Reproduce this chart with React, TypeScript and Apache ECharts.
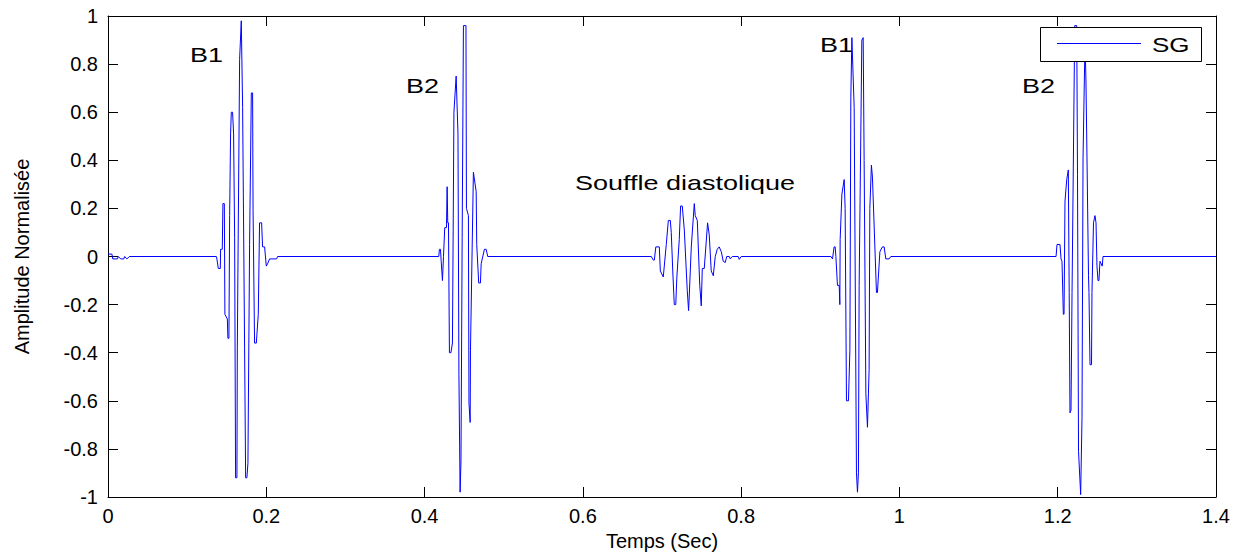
import React, { useEffect, useRef } from "react";
import * as echarts from "echarts";

// Time axis (s) and amplitude limits
const X_MIN = 0;
const X_MAX = 1.4;
const X_STEP = 0.2;
const Y_MIN = -1;
const Y_MAX = 1;
const Y_STEP = 0.2;

// Signal SG as [time (s), normalised amplitude]
const startNoise: [number, number][] = [
  [0.0, 0.01], [0.005, 0.01], [0.006, -0.01], [0.012, -0.01], [0.013, 0],
  [0.016, -0.01], [0.02, -0.01], [0.021, 0], [0.024, -0.01], [0.027, 0],
];

const burstB1a: [number, number][] = [
  [0.1369, 0], [0.1376, -0.01], [0.1394, -0.05], [0.1419, -0.05], [0.1423, 0.03],
  [0.1444, 0.03], [0.1452, 0.22], [0.147, 0.22], [0.1477, -0.24], [0.1508, -0.26],
  [0.1515, -0.34], [0.1528, -0.34], [0.1537, 0.17], [0.1549, 0.51], [0.1558, 0.6],
  [0.1574, 0.6], [0.1587, 0.51], [0.16, 0.08], [0.1612, -0.92], [0.1629, -0.92],
  [0.1634, -0.38], [0.1663, 0.82], [0.1684, 0.98], [0.1692, 0.98], [0.1701, 0.62],
  [0.1726, -0.38], [0.1739, -0.92], [0.1755, -0.92], [0.1768, -0.86], [0.1789, 0.05],
  [0.1811, 0.68], [0.1827, 0.68], [0.1833, 0.19], [0.1852, -0.36], [0.1874, -0.36],
  [0.1899, -0.24], [0.1915, 0.14], [0.1941, 0.14], [0.1953, 0.04], [0.1979, 0.04],
  [0.2, -0.04], [0.2016, -0.03], [0.2042, -0.01], [0.213, -0.01], [0.2143, 0],
];

const burstB2a: [number, number][] = [
  [0.4179, 0], [0.4188, 0.03], [0.4201, 0.03], [0.421, -0.02], [0.4226, -0.1],
  [0.4232, -0.1], [0.4239, 0.0], [0.4255, 0.12], [0.4277, 0.12], [0.4285, 0.29],
  [0.4293, 0.14], [0.4302, 0.14], [0.4314, -0.4], [0.4333, -0.4], [0.4352, -0.36],
  [0.4371, 0.6], [0.4399, 0.75], [0.4422, 0.51], [0.4434, -0.49], [0.4449, -0.98],
  [0.446, -0.85], [0.4475, 0.08], [0.4491, 0.96], [0.4523, 0.96], [0.4529, 0.2],
  [0.4554, 0.17], [0.4561, -0.61], [0.4576, -0.69], [0.458, -0.39], [0.4617, 0.35],
  [0.4652, 0.27], [0.4659, 0.05], [0.4684, -0.11], [0.4706, -0.11], [0.4715, -0.03],
  [0.4756, 0.03], [0.4778, 0.03], [0.4798, 0],
];

const souffle: [number, number][] = [
  [0.6865, 0], [0.689, -0.015], [0.6903, -0.015], [0.6922, 0.04], [0.6966, 0.04],
  [0.6979, -0.06], [0.7016, -0.085], [0.7029, -0.04], [0.7054, 0.05], [0.708, 0.15],
  [0.7105, 0.15], [0.7117, 0.1], [0.7136, -0.06], [0.7155, -0.2], [0.7174, -0.2],
  [0.7187, -0.09], [0.7218, 0.07], [0.7235, 0.21], [0.7256, 0.21], [0.7282, 0.11],
  [0.7319, -0.14], [0.7336, -0.225], [0.7345, -0.16], [0.737, 0.04], [0.7408, 0.22],
  [0.742, 0.17], [0.7446, 0.15], [0.7477, -0.12], [0.7496, -0.205], [0.7509, -0.05],
  [0.7534, -0.05], [0.7576, 0.14], [0.7597, 0.09], [0.7622, -0.06], [0.7648, -0.08],
  [0.7673, 0.0], [0.7698, 0.03], [0.7723, 0.04], [0.7749, 0.02], [0.7774, -0.02],
  [0.7799, -0.025], [0.7818, 0], [0.785, 0], [0.7862, -0.01], [0.7888, 0],
  [0.7963, 0], [0.7976, -0.012], [0.8001, 0],
];

const burstB1b: [number, number][] = [
  [0.9134, 0], [0.9154, -0.01], [0.9175, 0.04], [0.9188, 0.04], [0.9197, 0],
  [0.9205, 0], [0.9217, -0.12], [0.9239, -0.12], [0.9247, -0.2], [0.9251, 0.07],
  [0.9273, 0.26], [0.9302, 0.32], [0.9314, 0.2], [0.9331, -0.6], [0.9356, -0.6],
  [0.9374, -0.39], [0.9386, 0.66], [0.9399, 0.91], [0.9407, 0.91], [0.9428, 0.62],
  [0.9457, -0.9], [0.947, -0.98], [0.9482, -0.9], [0.9491, -0.12], [0.9525, 0.9],
  [0.9542, 0.91], [0.9554, 0.4], [0.9576, -0.57], [0.9596, -0.71], [0.9617, -0.47],
  [0.9626, 0.2], [0.9646, 0.38], [0.9659, 0.33], [0.971, -0.15], [0.9722, -0.15],
  [0.9753, 0.02], [0.9785, 0.04], [0.9807, 0.04], [0.9828, -0.01], [0.987, -0.01],
  [0.9891, 0],
];

const burstB2b: [number, number][] = [
  [1.1979, 0], [1.1991, 0.05], [1.2029, 0.05], [1.2042, -0.01], [1.2054, -0.02],
  [1.2071, -0.24], [1.208, -0.24], [1.2092, 0.23], [1.2114, 0.32], [1.2134, 0.36],
  [1.214, 0.36], [1.2145, -0.15], [1.2155, -0.65], [1.2168, -0.64], [1.2181, -0.15],
  [1.2215, 0.96], [1.224, 0.96], [1.225, 0.34], [1.2263, -0.81], [1.229, -0.99],
  [1.2307, -0.67], [1.232, 0.41], [1.2345, 0.9], [1.2357, 0.73], [1.237, 0.41],
  [1.2389, -0.08], [1.2395, -0.15], [1.2408, -0.45], [1.2427, -0.45], [1.2433, -0.15],
  [1.2452, 0.14], [1.2471, 0.17], [1.2484, 0.14], [1.2496, -0.04], [1.2509, -0.1],
  [1.2521, -0.1], [1.2534, -0.02], [1.2563, -0.04], [1.2572, 0],
];

const endPoint: [number, number][] = [[1.4, 0]];

const seriesName = "SG";
const xAxisTitle = "Temps (Sec)";
const yAxisTitle = "Amplitude Normalisée";

const annotations = [
  { text: "B1", left: 190, top: 55 },
  { text: "B2", left: 406, top: 86 },
  { text: "Souffle diastolique", left: 575, top: 183 },
  { text: "B1", left: 820, top: 45 },
  { text: "B2", left: 1022, top: 86 },
];

const FONT = '"Liberation Sans", Arial, sans-serif';
const LINE_COLOR = "#0000ff";

export default function App() {
  const ref = useRef<HTMLDivElement>(null);
  const legendRef = useRef<HTMLDivElement>(null);

  useEffect(() => {
    if (!ref.current || !legendRef.current) return;
    const chart = echarts.init(ref.current, undefined, { renderer: "svg" });
    const legendChart = echarts.init(legendRef.current, undefined, { renderer: "svg" });
    const data = [
      ...startNoise,
      ...burstB1a,
      ...burstB2a,
      ...souffle,
      ...burstB1b,
      ...burstB2b,
      ...endPoint,
    ];
    const axisLine = { show: true, onZero: false, lineStyle: { color: "#000", width: 1 } };
    const tickIn = { show: true, inside: true, length: 10, lineStyle: { color: "#000", width: 1 } };
    const labelStyle = { color: "#000", fontSize: 20, fontFamily: FONT };

    chart.setOption({
      animation: false,
      backgroundColor: "#fff",
      grid: {
        left: 108,
        right: 29,
        top: 16,
        bottom: 56,
        containLabel: false,
        outerBoundsMode: "none",
      },
      xAxis: [
        {
          type: "value",
          position: "bottom",
          min: X_MIN,
          max: X_MAX,
          interval: X_STEP,
          axisLine,
          axisTick: tickIn,
          splitLine: { show: false },
          axisLabel: { ...labelStyle, margin: 9 },
          name: xAxisTitle,
          nameLocation: "middle",
          nameGap: 34,
          nameTextStyle: { ...labelStyle },
        },
        {
          type: "value",
          position: "top",
          min: X_MIN,
          max: X_MAX,
          interval: X_STEP,
          axisLine,
          axisTick: tickIn,
          splitLine: { show: false },
          axisLabel: { show: false },
        },
      ],
      yAxis: [
        {
          type: "value",
          position: "left",
          min: Y_MIN,
          max: Y_MAX,
          interval: Y_STEP,
          axisLine,
          axisTick: tickIn,
          splitLine: { show: false },
          axisLabel: { ...labelStyle, margin: 10 },
          name: yAxisTitle,
          nameLocation: "middle",
          nameGap: 76,
          nameTextStyle: { ...labelStyle },
        },
        {
          type: "value",
          position: "right",
          min: Y_MIN,
          max: Y_MAX,
          interval: Y_STEP,
          axisLine,
          axisTick: tickIn,
          splitLine: { show: false },
          axisLabel: { show: false },
        },
      ],
      series: [
        {
          name: seriesName,
          type: "line",
          data,
          showSymbol: false,
          symbol: "none",
          lineStyle: { color: LINE_COLOR, width: 1 },
          itemStyle: { color: LINE_COLOR },
          clip: true,
        },
      ],
      graphic: annotations.map((a) => ({
        type: "text",
        x: a.left,
        y: a.top,
        scaleX: 1.35,
        style: {
          text: a.text,
          font: `20px ${FONT}`,
          fill: "#000",
          align: "left",
          verticalAlign: "middle",
        },
      })),
    });

    // Legend box, drawn in an overlay so that it hides the signal behind it
    legendChart.setOption({
      animation: false,
      graphic: [
        {
          type: "rect",
          shape: { x: 1040.5, y: 27.5, width: 161, height: 34 },
          style: { fill: "#fff", stroke: "#000", lineWidth: 1 },
        },
        {
          type: "line",
          shape: { x1: 1057, y1: 43.5, x2: 1141, y2: 43.5 },
          style: { stroke: LINE_COLOR, lineWidth: 1 },
        },
        {
          type: "text",
          x: 1152,
          y: 45,
          scaleX: 1.3,
          style: {
            text: seriesName,
            font: `20px ${FONT}`,
            fill: "#000",
            align: "left",
            verticalAlign: "middle",
          },
        },
      ],
    });
    return () => {
      chart.dispose();
      legendChart.dispose();
    };
  }, []);

  return (
    <div style={{ position: "absolute", left: 0, top: 0, width: 1245, height: 553, background: "#fff" }}>
      <div ref={ref} style={{ position: "absolute", left: 0, top: 0, width: 1245, height: 553 }} />
      <div
        ref={legendRef}
        style={{ position: "absolute", left: 0, top: 0, width: 1245, height: 553, pointerEvents: "none" }}
      />
    </div>
  );
}
